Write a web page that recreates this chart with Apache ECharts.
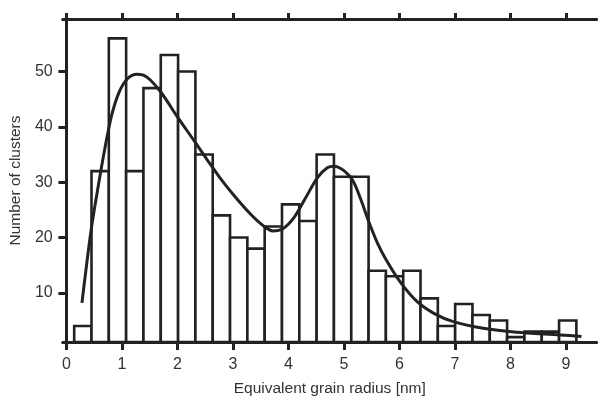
<!DOCTYPE html>
<html>
<head>
<meta charset="utf-8">
<script src="https://cdn.jsdelivr.net/npm/echarts@6/dist/echarts.min.js"></script>
<style>
  html, body { margin: 0; padding: 0; background: #fff; }
  #chart { width: 598px; height: 402px; }
</style>
</head>
<body>
<div id="chart"></div>
<script>
// Histogram bins (centre of each bin, nm) and counts
const binCenters = [0.296, 0.608, 0.920, 1.232, 1.544, 1.856, 2.168, 2.480, 2.792, 3.104,
                    3.416, 3.728, 4.040, 4.352, 4.664, 4.976, 5.288, 5.600, 5.912, 6.224,
                    6.536, 6.848, 7.160, 7.472, 7.784, 8.096, 8.408, 8.720, 9.032];
const binWidth = 0.312;
const counts = [4, 32, 56, 32, 47, 53, 50, 35, 24, 20,
                18, 22, 26, 23, 35, 31, 31, 14, 13, 14,
                9, 4, 8, 6, 5, 2, 3, 3, 5];

// Fitted curve
const curveX = [0.28, 0.44, 0.56, 0.70, 0.82, 0.95, 1.10, 1.27, 1.45, 1.70,
                2.00, 2.30, 2.54, 2.78, 3.02, 3.32, 3.55, 3.72, 3.90, 4.10,
                4.30, 4.52, 4.70, 4.82, 5.00, 5.16, 5.30, 5.45, 5.60, 5.76,
                6.02, 6.32, 6.62, 6.97, 7.51, 8.11, 8.90, 9.28];
const curveY = [8.2, 21.0, 28.5, 36.5, 42.3, 46.3, 48.7, 49.5, 49.0, 46.3,
                41.8, 37.5, 34.0, 30.6, 27.6, 24.2, 22.1, 21.2, 21.6, 23.6,
                27.0, 30.8, 32.6, 32.9, 32.1, 30.3, 27.0, 22.8, 19.1, 16.0,
                11.9, 8.4, 6.3, 4.8, 3.6, 2.9, 2.4, 2.1];

const xTicks = [0, 1, 2, 3, 4, 5, 6, 7, 8, 9];
const yTicks = [10, 20, 30, 40, 50];

const xMin = -0.067, xMax = 9.556;
const yMin = 1.12, yMax = 59.5;

const ink = '#222';
const font = '"Liberation Sans", Arial, Helvetica, sans-serif';

const chart = echarts.init(document.getElementById('chart'), null, { renderer: 'canvas' });

const barData = binCenters.map((c, i) => [c - binWidth / 2, c + binWidth / 2, counts[i]]);
const lineData = curveX.map((x, i) => [x, curveY[i]]);

chart.setOption({
  animation: false,
  backgroundColor: '#fff',
  grid: { left: 61.8, right: 1.2, top: 19, bottom: 55.5, containLabel: false },
  xAxis: [
    {
      type: 'value', position: 'bottom', min: xMin, max: xMax,
      name: 'Equivalent grain radius [nm]', nameLocation: 'middle', nameGap: 39,
      nameTextStyle: { fontFamily: font, fontSize: 15.5, color: '#333' },
      axisLine: { show: true, lineStyle: { color: ink, width: 3 } },
      axisTick: { show: true, length: 8, inside: false, customValues: xTicks, lineStyle: { color: ink, width: 3 } },
      axisLabel: { show: true, customValues: xTicks, margin: 15, fontFamily: font, fontSize: 16, color: '#333' },
      splitLine: { show: false }
    },
    {
      type: 'value', position: 'top', min: xMin, max: xMax,
      axisLine: { show: true, lineStyle: { color: ink, width: 3 } },
      axisTick: { show: true, length: 6, inside: false, customValues: xTicks, lineStyle: { color: ink, width: 3 } },
      axisLabel: { show: false },
      splitLine: { show: false }
    }
  ],
  yAxis: [
    {
      type: 'value', position: 'left', min: yMin, max: yMax,
      name: 'Number of clusters', nameLocation: 'middle', nameGap: 36,
      nameTextStyle: { fontFamily: font, fontSize: 15.5, color: '#333' },
      axisLine: { show: true, lineStyle: { color: ink, width: 3 } },
      axisTick: { show: true, length: 8, inside: false, customValues: yTicks, lineStyle: { color: ink, width: 3 } },
      axisLabel: { show: true, customValues: yTicks, margin: 10, fontFamily: font, fontSize: 16, color: '#333' },
      splitLine: { show: false }
    },
    {
      type: 'value', position: 'right', min: yMin, max: yMax,
      axisLine: { show: true, lineStyle: { color: ink, width: 1.5 } },
      axisTick: { show: false },
      axisLabel: { show: false },
      splitLine: { show: false }
    }
  ],
  series: [
    {
      type: 'custom',
      xAxisIndex: 0, yAxisIndex: 0,
      data: barData,
      clip: true,
      renderItem: function (params, api) {
        const p0 = api.coord([api.value(0), api.value(2)]);
        const p1 = api.coord([api.value(1), yMin]);
        return {
          type: 'rect',
          shape: { x: p0[0], y: p0[1], width: p1[0] - p0[0], height: p1[1] - p0[1] },
          style: { fill: '#fff', stroke: ink, lineWidth: 2.6 }
        };
      },
      z: 2
    },
    {
      type: 'line',
      xAxisIndex: 0, yAxisIndex: 0,
      data: lineData,
      smooth: 0.3,
      showSymbol: false,
      lineStyle: { color: ink, width: 3 },
      z: 3
    }
  ]
});
</script>
</body>
</html>
